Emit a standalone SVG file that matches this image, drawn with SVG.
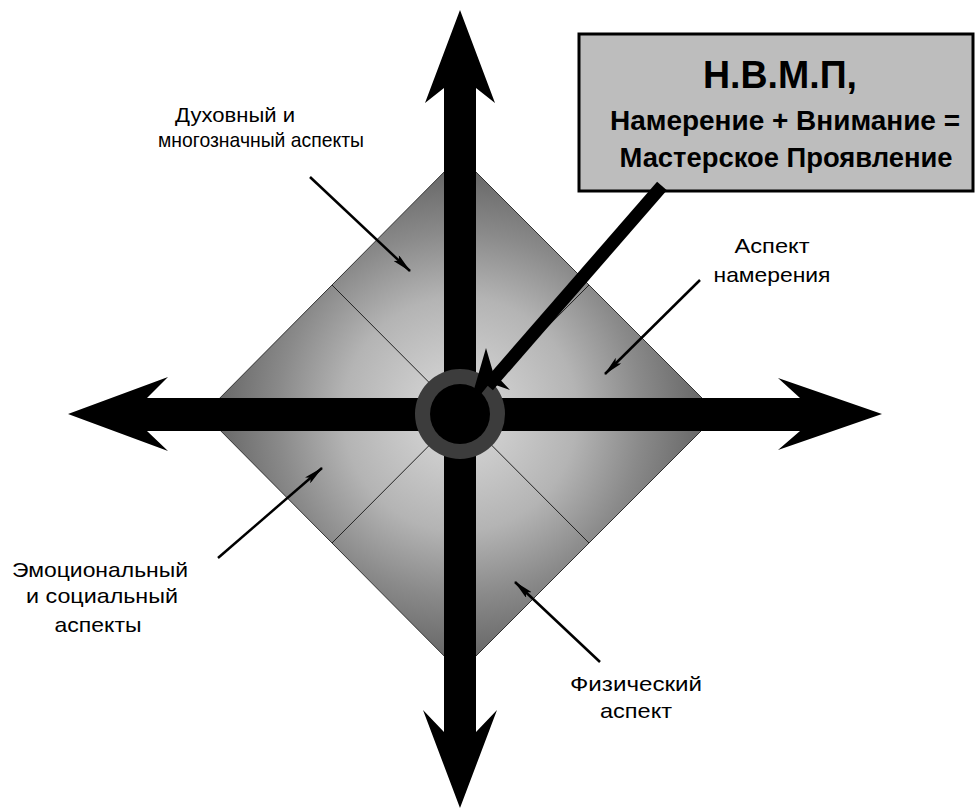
<svg xmlns="http://www.w3.org/2000/svg" width="979" height="808" viewBox="0 0 979 808">
<defs>
<radialGradient id="dg" cx="460" cy="414" r="260" gradientUnits="userSpaceOnUse">
<stop offset="0" stop-color="#dcdcdc"/>
<stop offset="0.45" stop-color="#b4b4b4"/>
<stop offset="0.7" stop-color="#8a8a8a"/>
<stop offset="1" stop-color="#5e5e5e"/>
</radialGradient>
<marker id="ah" markerWidth="20" markerHeight="8" refX="19" refY="4" orient="auto" markerUnits="userSpaceOnUse">
<path d="M0,0 L20,4 L0,8 L4,4 z" fill="#000"/>
</marker>
<style>
.lbl{font-family:"Liberation Sans",Arial,sans-serif;font-size:21px;fill:#000}
.bx{font-family:"Liberation Sans",Arial,sans-serif;font-weight:bold;fill:#000}
.lead{stroke:#000;stroke-width:2.5;fill:none;marker-end:url(#ah)}
.thin{stroke:#222;stroke-width:1;fill:none}
.ax{fill:#000}
</style>
</defs>
<rect width="979" height="808" fill="#fff"/>

<g id="diamond">
<polygon points="460,156 718,414 460,672 204,414" fill="url(#dg)" stroke="#333" stroke-width="1"/>
<line class="thin" x1="332" y1="285" x2="589" y2="543"/>
<line class="thin" x1="589" y1="285" x2="332" y2="543"/>
</g>

<g id="axes">
<polygon class="ax" points="460,10 495,103 476,88 476,732 497,710 460,808 423,710 444,732 444,88 425,103"/>
<polygon class="ax" points="68,414 168,377 147,398 800,398 778,378 882,414 778,450 800,431 147,431 168,451"/>
</g>

<g id="center">
<circle cx="460" cy="414" r="45" fill="#3c3c3c"/>
<circle cx="460" cy="414" r="30" fill="#000"/>
</g>

<g id="box">
<rect x="579" y="34" width="394" height="157" fill="#bdbdbd" stroke="#000" stroke-width="3"/>
<text class="bx" x="780" y="88" font-size="38" text-anchor="middle" textLength="154" lengthAdjust="spacingAndGlyphs">Н.В.М.П,</text>
<text class="bx" x="785" y="130" font-size="27" text-anchor="middle" textLength="350" lengthAdjust="spacingAndGlyphs">Намерение + Внимание =</text>
<text class="bx" x="786" y="167" font-size="27" text-anchor="middle" textLength="333" lengthAdjust="spacingAndGlyphs">Мастерское Проявление</text>
</g>

<g id="connectors">
<line x1="662" y1="186" x2="488" y2="386" stroke="#000" stroke-width="13"/>
<polygon points="468,410 486,348 493,372 510,390 490,383" fill="#000"/>
<line class="lead" x1="310" y1="177" x2="410" y2="271"/>
<line class="lead" x1="700" y1="280" x2="605" y2="374"/>
<line class="lead" x1="218" y1="558" x2="322" y2="468"/>
<line class="lead" x1="600" y1="662" x2="515" y2="582"/>
</g>

<g id="label-spiritual">
<text class="lbl" x="175" y="122" textLength="120" lengthAdjust="spacingAndGlyphs">Духовный и</text>
<text class="lbl" x="158" y="147" textLength="206" lengthAdjust="spacingAndGlyphs">многозначный аспекты</text>
</g>
<g id="label-intention">
<text class="lbl" x="772" y="253" text-anchor="middle" textLength="75" lengthAdjust="spacingAndGlyphs">Аспект</text>
<text class="lbl" x="772" y="282" text-anchor="middle" textLength="117" lengthAdjust="spacingAndGlyphs">намерения</text>
</g>
<g id="label-emotional">
<text class="lbl" x="100" y="577" text-anchor="middle" textLength="176" lengthAdjust="spacingAndGlyphs">Эмоциональный</text>
<text class="lbl" x="102" y="603" text-anchor="middle" textLength="152" lengthAdjust="spacingAndGlyphs">и социальный</text>
<text class="lbl" x="98" y="632" text-anchor="middle" textLength="87" lengthAdjust="spacingAndGlyphs">аспекты</text>
</g>
<g id="label-physical">
<text class="lbl" x="636" y="691" text-anchor="middle" textLength="132" lengthAdjust="spacingAndGlyphs">Физический</text>
<text class="lbl" x="636" y="718" text-anchor="middle" textLength="72" lengthAdjust="spacingAndGlyphs">аспект</text>
</g>
</svg>
